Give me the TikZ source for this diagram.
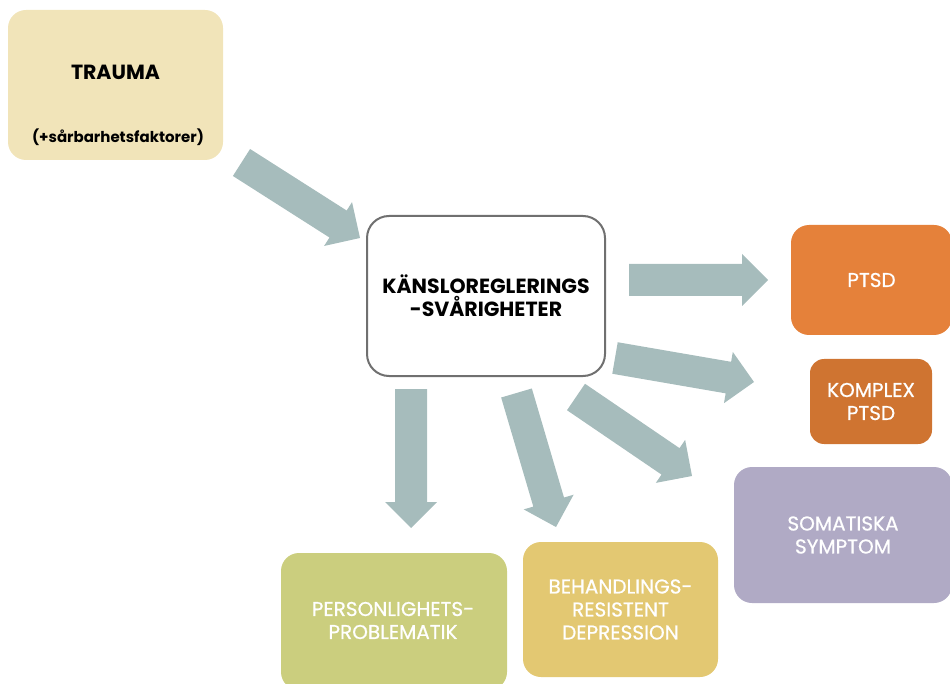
\documentclass[tikz,border=0pt]{standalone}
\usepackage{fontspec}
\setmainfont{Poppins}
\newfontfamily\medfont[FakeBold=0.7]{Poppins}
\usetikzlibrary{calc}
\definecolor{traumac}{HTML}{F1E4B9}
\definecolor{ptsdc}{HTML}{E5813A}
\definecolor{kptsdc}{HTML}{CF7431}
\definecolor{somc}{HTML}{B0AAC5}
\definecolor{persc}{HTML}{CBCE7E}
\definecolor{behc}{HTML}{E3C872}
\definecolor{arrowc}{HTML}{A6BCBC}
\definecolor{borderc}{HTML}{707070}
\newcommand{\blockarrow}[2]{%
  \coordinate (neck) at ($(#2)!26pt!(#1)$);
  \fill[arrowc] ($(#1)!16pt!90:(#2)$) -- ($(neck)!16pt!-90:(#1)$) -- ($(neck)!26pt!-90:(#1)$)
    -- (#2) -- ($(neck)!26pt!90:(#1)$) -- ($(neck)!16pt!90:(#1)$) -- ($(#1)!16pt!-90:(#2)$) -- cycle;}
\tikzset{
  box/.style={rectangle, rounded corners=18pt, inner sep=0pt, align=center},
  darktext/.style={font=\fontsize{20.5}{23}\selectfont\bfseries, text=black, align=center},
  whitetext/.style={font=\medfont\fontsize{20}{23}\selectfont, text=white, align=center},
}
\begin{document}
\begin{tikzpicture}[x=1pt,y=-1pt]
\useasboundingbox (0,0) rectangle (950,684);
\clip (0,0) rectangle (950,684);
% boxes
\node[box, fill=traumac, minimum width=215pt, minimum height=150pt] (trauma) at (115.5,85) {};
\node[darktext] (traumat) at (115.5,72) {TRAUMA};
\node[darktext, font=\fontsize{15}{18}\selectfont\bfseries] (sarb) at (118,137) {(+sårbarhetsfaktorer)};
\node[box, fill=white, draw=borderc, line width=2pt, rounded corners=22pt, minimum width=238pt, minimum height=160pt, darktext] (kans) at (486,296) {KÄNSLOREGLERINGS\\-SVÅRIGHETER};
\node[box, fill=ptsdc, minimum width=161pt, minimum height=110pt, whitetext] (ptsd) at (871.5,280) {PTSD};
\node[box, fill=kptsdc, rounded corners=14pt, minimum width=122pt, minimum height=85pt, whitetext] (kptsd) at (871,401.5) {KOMPLEX\\PTSD};
\node[box, fill=somc, minimum width=218pt, minimum height=136pt, whitetext] (som) at (843,535) {SOMATISKA\\SYMPTOM};
\node[box, fill=persc, minimum width=226pt, minimum height=137pt] (pers) at (394,621.5) {};
\node[whitetext] (perst) at (393,620.5) {PERSONLIGHETS-\\PROBLEMATIK};
\node[box, fill=behc, minimum width=195pt, minimum height=135pt, whitetext] (beh) at (620.5,609.5) {BEHANDLINGS-\\RESISTENT\\DEPRESSION};
% arrow end points
\coordinate (a1s) at (241.5,162.5); \coordinate (a1e) at (360,238);
\coordinate (a2s) at (629,280);     \coordinate (a2e) at (768,280);
\coordinate (a3s) at (615,358);     \coordinate (a3e) at (754,382);
\coordinate (a4s) at (576,397);     \coordinate (a4e) at (692,476);
\coordinate (a5s) at (411,389);     \coordinate (a5e) at (411,528);
\coordinate (a6s) at (516.5,393);   \coordinate (a6e) at (556,527);
\blockarrow{a1s}{a1e}
\blockarrow{a2s}{a2e}
\blockarrow{a3s}{a3e}
\blockarrow{a4s}{a4e}
\blockarrow{a5s}{a5e}
\blockarrow{a6s}{a6e}
\end{tikzpicture}
\end{document}
